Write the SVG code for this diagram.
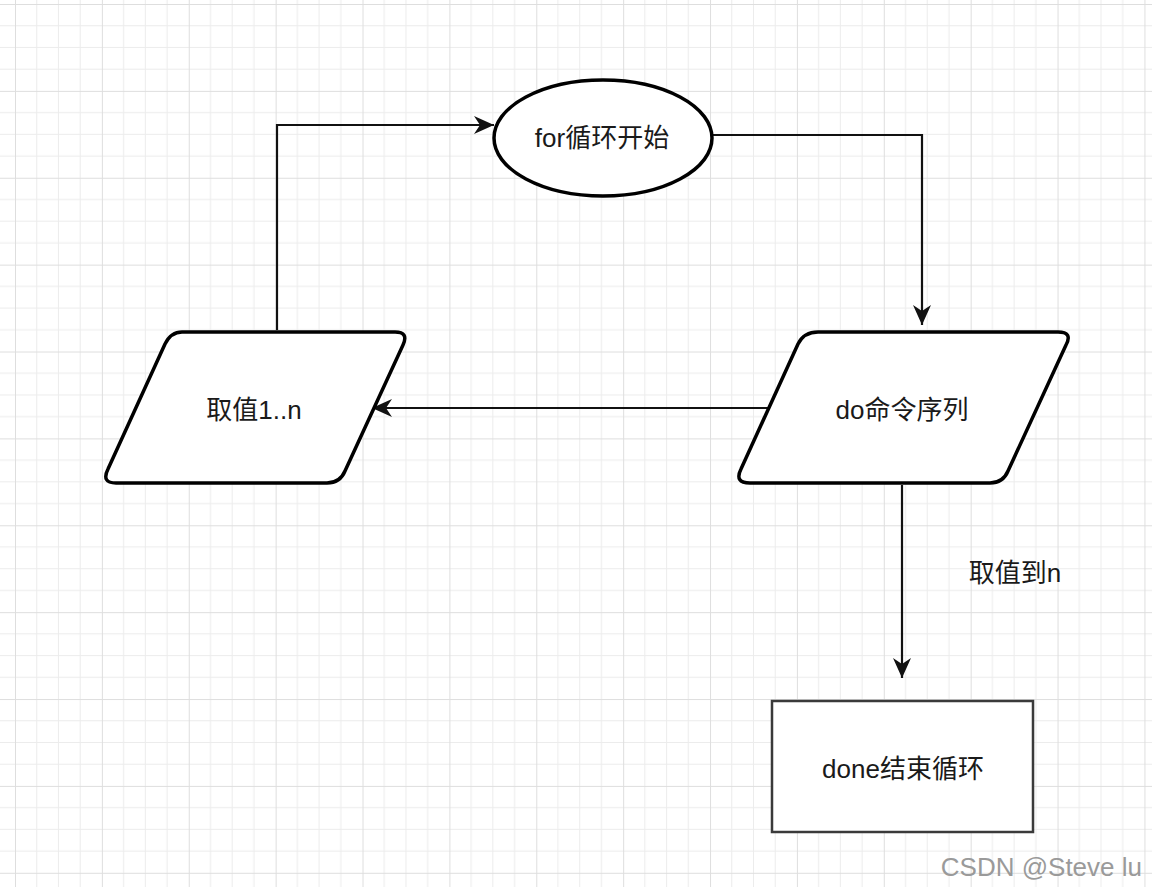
<svg xmlns="http://www.w3.org/2000/svg" width="1152" height="887" viewBox="0 0 1152 887">
  <style>
    .shape { fill: #ffffff; stroke: #000000; stroke-width: 3.5; stroke-linejoin: round; }
    .box { fill: #ffffff; stroke: #3a3a3a; stroke-width: 2.5; }
    .edge { fill: none; stroke: #111111; stroke-width: 2.2; }
    .label { font-family: "Liberation Sans", "Noto Sans CJK SC", sans-serif; font-size: 26px; fill: #1a1a1a; text-anchor: middle; dominant-baseline: central; }
    .wm { font-family: "Liberation Sans", "Noto Sans CJK SC", sans-serif; font-size: 26px; fill: #9a9a9a; text-anchor: end; }
  </style>
  <defs>
    <pattern id="grid" patternUnits="userSpaceOnUse" x="15" y="4" width="86.88" height="86.88">
      <path d="M21.72,0 V86.88 M43.44,0 V86.88 M65.16,0 V86.88 M0,21.72 H86.88 M0,43.44 H86.88 M0,65.16 H86.88" stroke="#ececec" stroke-width="1" fill="none"/>
      <path d="M0.5,0 V86.88 M0,0.5 H86.88" stroke="#dedede" stroke-width="1" fill="none"/>
    </pattern>
    <marker id="arrow" markerUnits="userSpaceOnUse" markerWidth="24" markerHeight="24" viewBox="-22 -11 24 22" refX="0" refY="0" orient="auto">
      <path d="M0,0 L-20,-9 L-14,0 L-20,9 Z" fill="#111111"/>
    </marker>
  </defs>
  <rect x="0" y="0" width="1152" height="887" fill="#ffffff"/>
  <rect x="0" y="0" width="1152" height="887" fill="url(#grid)"/>

  <g id="connectors">
    <path class="edge" d="M277,330 V125 H494" marker-end="url(#arrow)"/>
    <path class="edge" d="M713,135 H922 V325" marker-end="url(#arrow)"/>
    <path class="edge" d="M770,408 H372" marker-end="url(#arrow)"/>
    <path class="edge" d="M902,485 V678" marker-end="url(#arrow)"/>
    <text class="label" x="1015" y="573">取值到n</text>
  </g>

  <g id="start">
    <ellipse class="shape" cx="603" cy="138" rx="109" ry="58"/>
    <text class="label" x="602" y="138">for循环开始</text>
  </g>

  <g id="take-value">
    <path class="shape" d="M182,332 H395 Q409,332 403,345 L345,471 Q340,483 327,483 H116 Q101,483 108,469 L165,344 Q171,332 182,332 Z"/>
    <text class="label" x="254" y="410">取值1..n</text>
  </g>

  <g id="do-commands">
    <path class="shape" d="M818,332 H1058 Q1073,332 1066,345 L1008,471 Q1003,483 990,483 H750 Q734,483 741,469 L798,344 Q804,332 818,332 Z"/>
    <text class="label" x="902" y="410">do命令序列</text>
  </g>

  <g id="done">
    <rect class="box" x="772" y="701" width="261" height="131"/>
    <text class="label" x="903" y="769">done结束循环</text>
  </g>

  <text class="wm" x="1142" y="876">CSDN @Steve lu</text>
</svg>
